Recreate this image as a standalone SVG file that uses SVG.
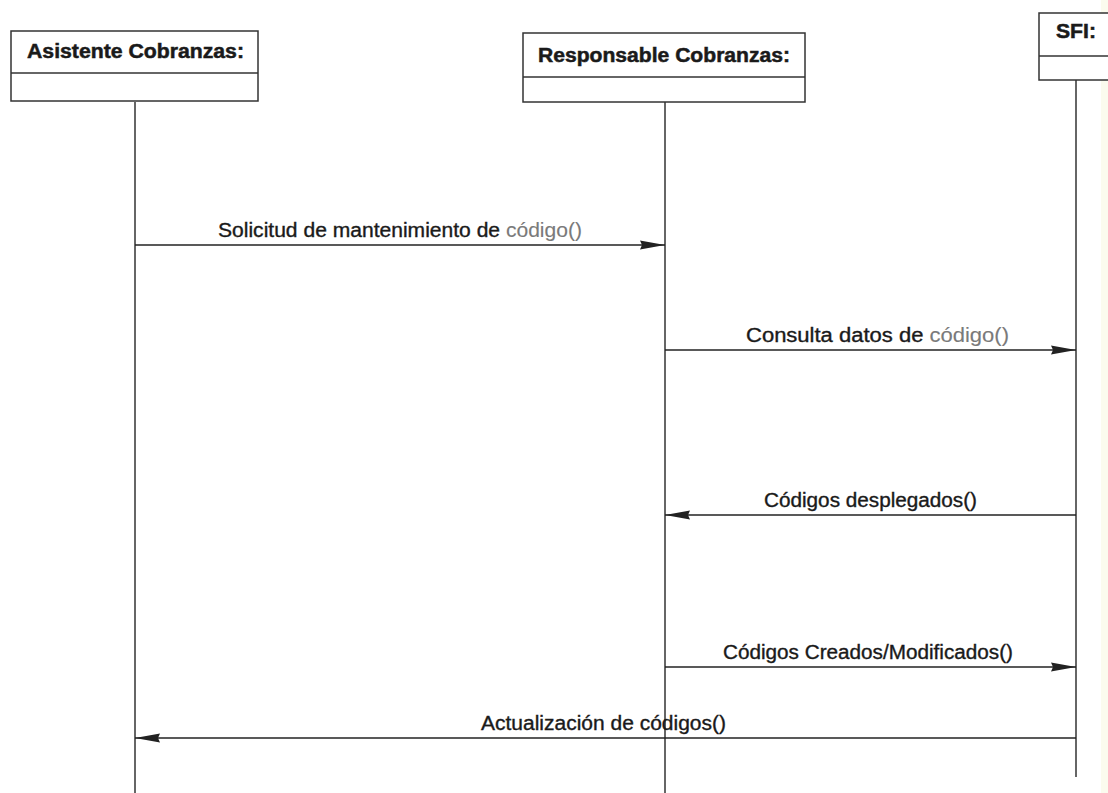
<svg xmlns="http://www.w3.org/2000/svg" width="1108" height="793" viewBox="0 0 1108 793">
  <style>
    .box { fill: #ffffff; stroke: #333333; stroke-width: 1.5; }
    .life { stroke: #333333; stroke-width: 1.5; fill: none; }
    .msg { stroke: #222222; stroke-width: 1.5; fill: none; }
    .title { font-family: "Liberation Sans", Arial, sans-serif; font-weight: bold; font-size: 20px; fill: #1a1a1a; stroke: #1a1a1a; stroke-width: 0.5; }
    .label { font-family: "Liberation Sans", Arial, sans-serif; font-size: 19.5px; fill: #1a1a1a; stroke: #1a1a1a; stroke-width: 0.35; }
    .soft { fill: #7a7a7a; stroke: #7a7a7a; stroke-width: 0.1; }
  </style>
  <defs>
    <marker id="head" markerWidth="26" markerHeight="12" refX="25" refY="6" orient="auto" markerUnits="userSpaceOnUse">
      <path d="M0,1.5 L25,6 L0,10.5 L2,6 Z" fill="#222222"/>
    </marker>
  </defs>

  <rect width="1108" height="793" fill="#ffffff"/>
  <rect x="1101" y="0" width="7" height="793" fill="#fbfbee"/>

  <!-- lifelines -->
  <g id="lifelines">
    <line class="life" x1="135" y1="102" x2="135" y2="793"/>
    <line class="life" x1="665" y1="102" x2="665" y2="793"/>
    <line class="life" x1="1076" y1="80" x2="1076" y2="777"/>
  </g>

  <g id="asistente">
    <rect class="box" x="11" y="31" width="247" height="70"/>
    <line class="life" x1="11" y1="73" x2="258" y2="73"/>
    <text class="title" x="27" y="58" textLength="217" lengthAdjust="spacingAndGlyphs">Asistente Cobranzas:</text>
  </g>

  <g id="responsable">
    <rect class="box" x="523" y="33" width="282" height="69"/>
    <line class="life" x1="523" y1="77" x2="805" y2="77"/>
    <text class="title" x="538" y="62" textLength="252" lengthAdjust="spacingAndGlyphs">Responsable Cobranzas:</text>
  </g>

  <g id="sfi">
    <rect class="box" x="1039" y="13" width="80" height="67"/>
    <line class="life" x1="1039" y1="56" x2="1119" y2="56"/>
    <text class="title" x="1056" y="38" textLength="40" lengthAdjust="spacingAndGlyphs">SFI:</text>
  </g>

  <!-- messages -->
  <g id="connectors">
    <line class="msg" x1="135" y1="245" x2="665" y2="245" marker-end="url(#head)"/>
    <line class="msg" x1="665" y1="350" x2="1076" y2="350" marker-end="url(#head)"/>
    <line class="msg" x1="1076" y1="515" x2="665" y2="515" marker-end="url(#head)"/>
    <line class="msg" x1="665" y1="667" x2="1076" y2="667" marker-end="url(#head)"/>
    <line class="msg" x1="1076" y1="738" x2="135" y2="738" marker-end="url(#head)"/>
  </g>

  <g id="labels">
    <text class="label" x="218" y="237" textLength="364" lengthAdjust="spacingAndGlyphs">Solicitud de mantenimiento de <tspan class="soft">código()</tspan></text>
    <text class="label" x="746" y="342" textLength="263" lengthAdjust="spacingAndGlyphs">Consulta datos de <tspan class="soft">código()</tspan></text>
    <text class="label" x="764" y="507" textLength="213" lengthAdjust="spacingAndGlyphs">Códigos desplegados()</text>
    <text class="label" x="723" y="659" textLength="290" lengthAdjust="spacingAndGlyphs">Códigos Creados/Modificados()</text>
    <text class="label" x="481" y="730" textLength="245" lengthAdjust="spacingAndGlyphs">Actualización de códigos()</text>
  </g>
</svg>
